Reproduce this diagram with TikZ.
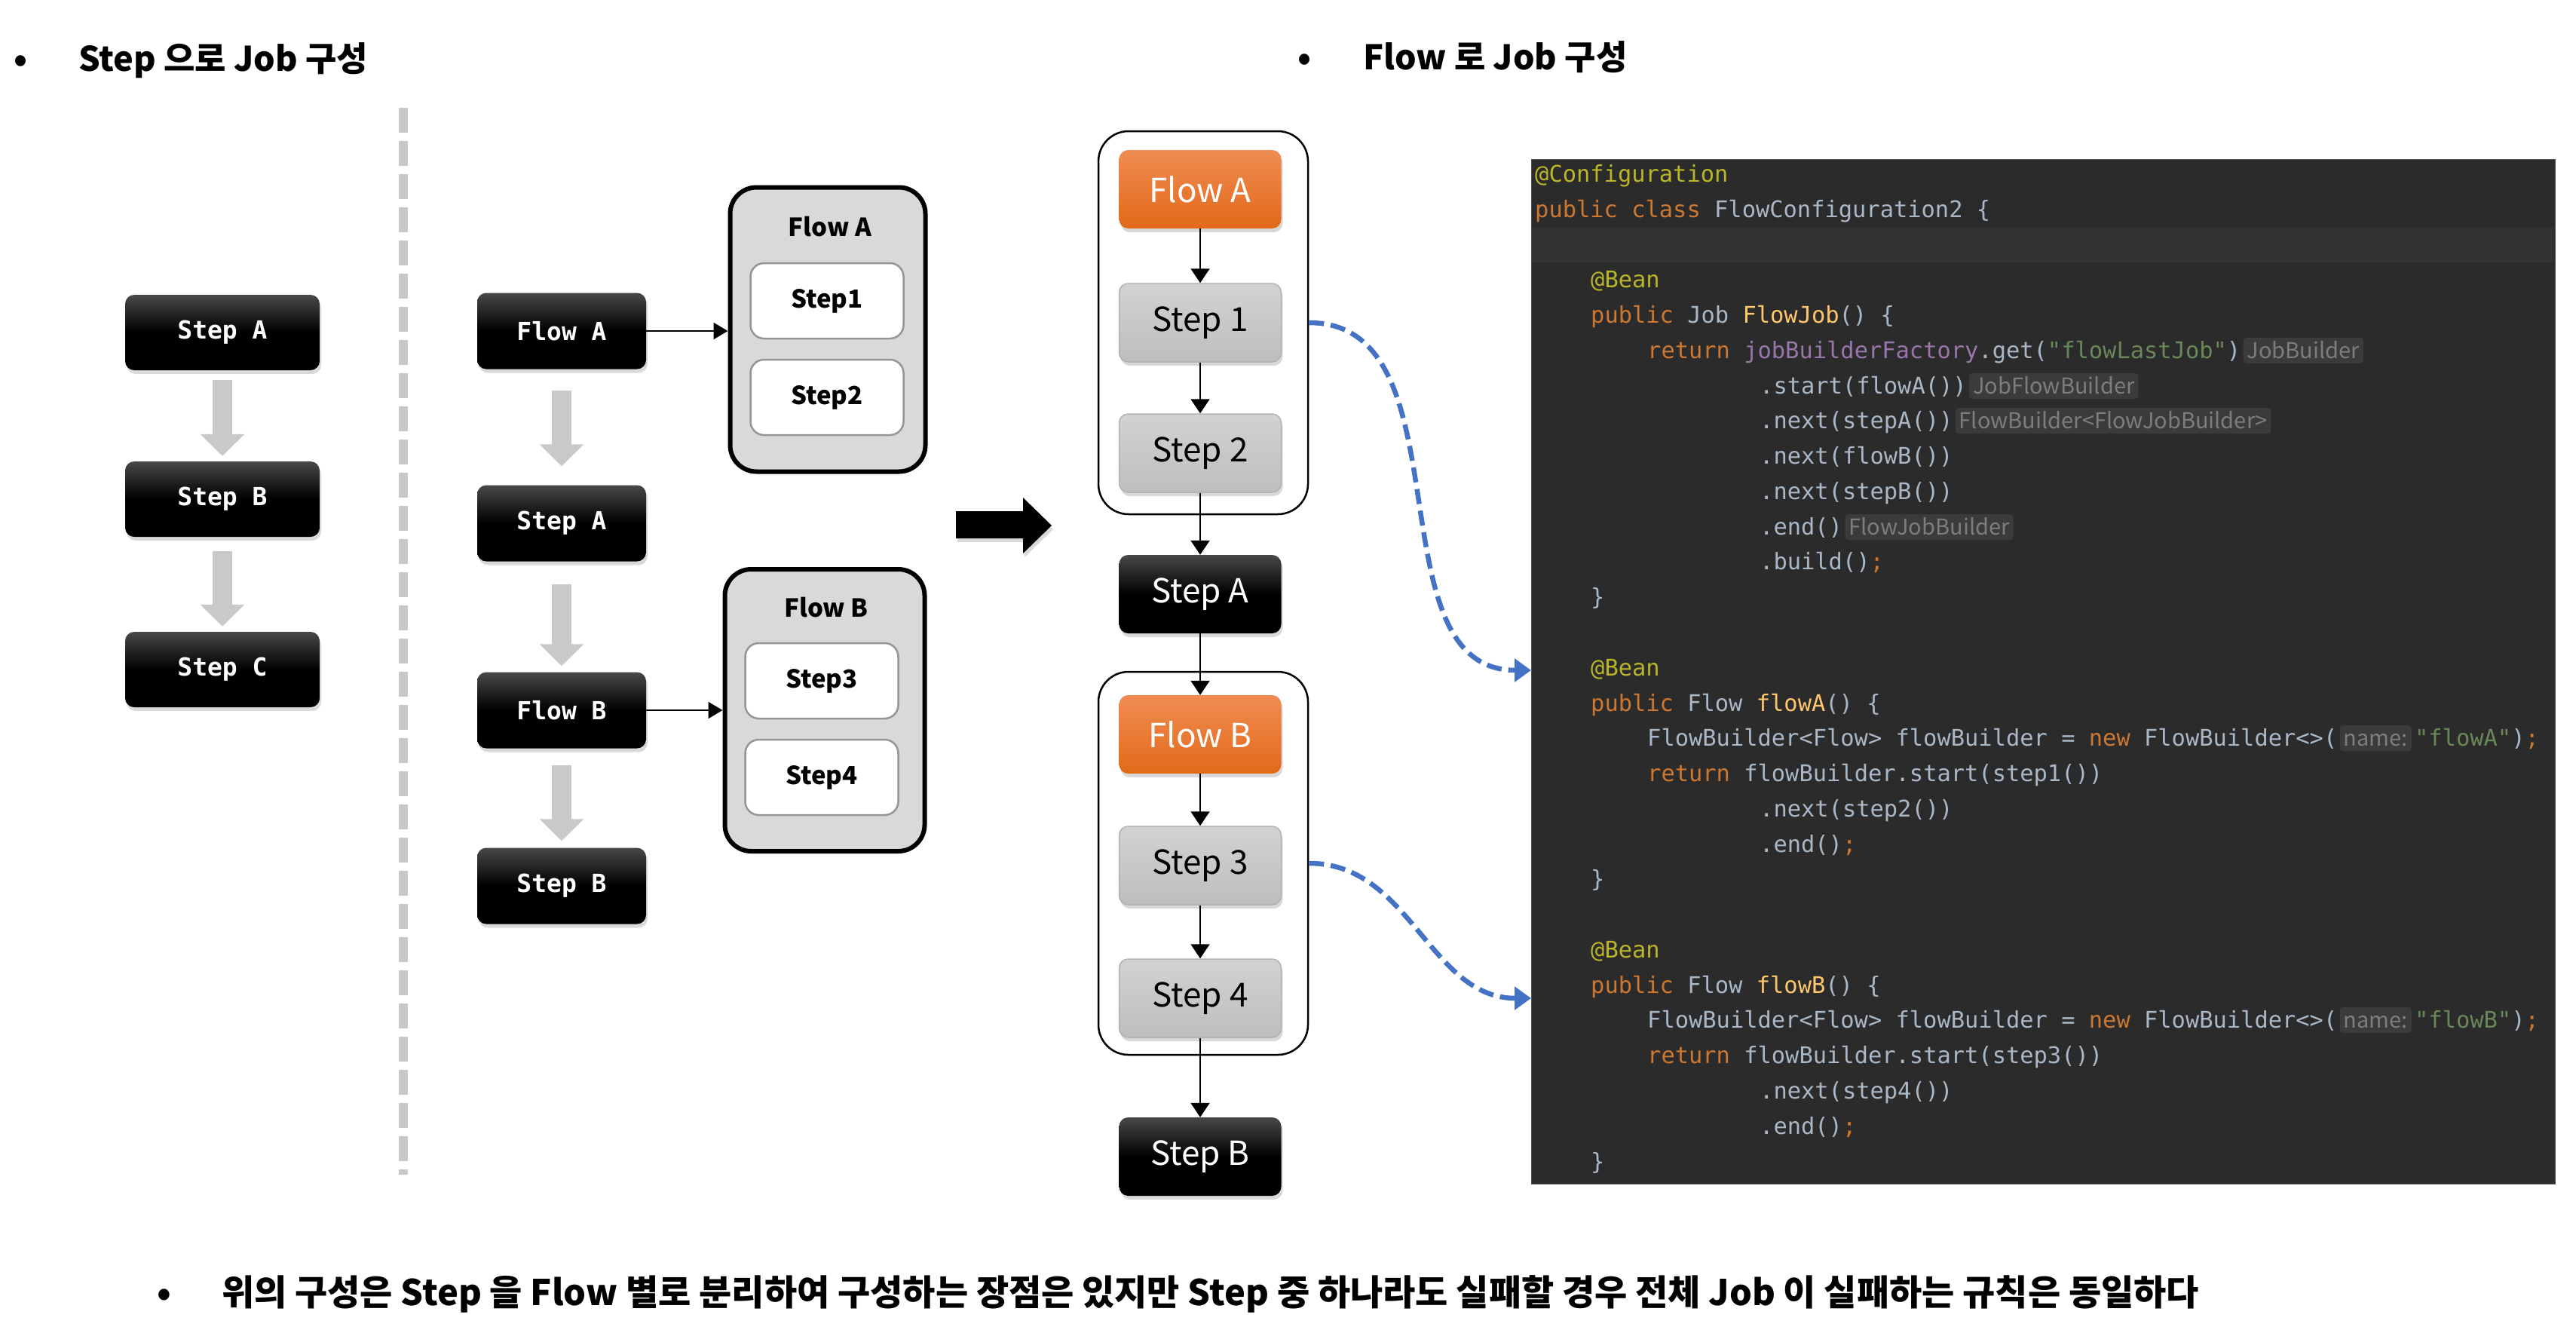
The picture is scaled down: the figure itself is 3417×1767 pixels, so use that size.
\documentclass[tikz,border=0pt]{standalone}
\usepackage{fontspec}
\usepackage{xcolor}
\usetikzlibrary{arrows.meta,shadows}

\newfontfamily\kofont{Noto Sans CJK KR}
\newfontfamily\codefont{DejaVu Sans Mono}

\definecolor{sepGray}{RGB}{200,200,200}
\definecolor{arrowGray}{RGB}{201,201,201}
\definecolor{boxTop}{RGB}{72,72,72}
\definecolor{groupGray}{RGB}{217,217,217}
\definecolor{stepEdge}{RGB}{150,150,150}
\definecolor{orangeTop}{RGB}{240,140,82}
\definecolor{orangeBot}{RGB}{226,105,25}
\definecolor{greyTop}{RGB}{210,210,210}
\definecolor{greyBot}{RGB}{190,190,190}
\definecolor{greyEdge}{RGB}{178,178,178}
\definecolor{linkBlue}{RGB}{68,114,196}
\definecolor{codeBg}{RGB}{43,43,43}
\definecolor{codeBand}{RGB}{50,50,50}
\definecolor{codeText}{RGB}{169,183,198}
\definecolor{kwOrange}{RGB}{204,120,50}
\definecolor{annYellow}{RGB}{187,181,41}
\definecolor{fnGold}{RGB}{255,198,109}
\definecolor{fldPurple}{RGB}{152,118,170}
\definecolor{strGreen}{RGB}{106,135,89}
\definecolor{hintBg}{RGB}{59,59,59}
\definecolor{hintText}{RGB}{125,125,125}

%code colouring
\newcommand{\cKw}[1]{\textcolor{kwOrange}{#1}}
\newcommand{\cAnn}[1]{\textcolor{annYellow}{#1}}
\newcommand{\cFn}[1]{\textcolor{fnGold}{#1}}
\newcommand{\cFld}[1]{\textcolor{fldPurple}{#1}}
\newcommand{\cStr}[1]{\textcolor{strGreen}{#1}}

\tikzset{
  titletext/.style={font=\kofont\bfseries\fontsize{45}{52}\selectfont, inner sep=0pt, anchor=base west},
  sepline/.style={draw=sepGray, line width=12pt, dash pattern=on 33pt off 11pt},
  boxshadow/.style={drop shadow={shadow xshift=2pt, shadow yshift=-5pt, opacity=0.3}},
  darkbox/.style={rounded corners=12pt, inner sep=0pt, top color=boxTop, bottom color=black, middle color=black, text=white, boxshadow},
  lbox/.style={darkbox, minimum width=258pt, minimum height=100pt, font=\codefont\bfseries\fontsize{33}{40}\selectfont},
  grayarrow/.style={draw=arrowGray, line width=26pt, -{Triangle[length=29pt,width=57pt]}},
  thinarrow/.style={draw=black, line width=2pt, -{Triangle[length=19pt,width=22pt]}},
  mgroup/.style={draw=black, line width=6pt, fill=groupGray, rounded corners=35pt, inner sep=0pt, minimum width=259pt, minimum height=377pt},
  mlabel/.style={inner sep=0pt, font=\kofont\bfseries\fontsize{33}{40}\selectfont},
  mstep/.style={fill=white, draw=stepEdge, line width=2.5pt, rounded corners=18pt, inner sep=0pt, minimum width=203pt, minimum height=100pt, font=\kofont\bfseries\fontsize{33}{40}\selectfont},
  rgroup/.style={draw=black, line width=2.5pt, fill=white, rounded corners=40pt, inner sep=0pt, minimum width=278pt, minimum height=508pt},
  rbox/.style={rounded corners=12pt, inner sep=0pt, minimum width=215pt, minimum height=104pt, font=\kofont\fontsize{44}{50}\selectfont, boxshadow},
  rflow/.style={rbox, top color=orangeTop, bottom color=orangeBot, text=white},
  rstep/.style={rbox, top color=greyTop, bottom color=greyBot, draw=greyEdge, line width=1.5pt, text=black},
  rjob/.style={rbox, top color=boxTop, bottom color=black, middle color=black, text=white},
  flowarrow/.style={draw=black, line width=2pt, -{Triangle[length=19pt,width=25pt]}},
  linkarrow/.style={draw=linkBlue, line width=6.5pt, dash pattern=on 20pt off 9pt, -{Triangle[length=22pt,width=30pt]}},
  codepanel/.style={fill=codeBg, draw={rgb,255:red,85;green,85;blue,85}, line width=1pt, inner sep=0pt, minimum width=1358pt, minimum height=1359pt},
  codeline/.style={font=\codefont\fontsize{30.4}{36}\selectfont, text=codeText, inner sep=0pt, anchor=base west},
  hint/.style={font=\kofont\fontsize{29}{34}\selectfont, text=hintText, fill=hintBg, rounded corners=4pt, inner xsep=5pt, inner ysep=3pt, text height=24pt, text depth=4pt, anchor=base west, xshift=3pt},
  bodytext/.style={font=\kofont\bfseries\fontsize{47}{54}\selectfont, inner sep=0pt, anchor=base west}
}

\begin{document}
\begin{tikzpicture}[x=1pt,y=1pt,yscale=-1,xscale=1]
\useasboundingbox (0,0) rectangle (3417,1767);

%Titles
\node [titletext] (bulletL) at (18,94) {•};
\node [titletext] (titleL) at (104,94) {Step 으로 Job 구성};
\node [titletext] (bulletR) at (1721,92) {•};
\node [titletext] (titleR) at (1808,92) {Flow 로 Job 구성};

%Dashed separator
\draw [sepline] (535,143) -- (535,1558);

%Left column: steps only
\node [lbox] (lStepA) at (295,441) {Step A};
\node [lbox] (lStepB) at (295,662) {Step B};
\node [lbox] (lStepC) at (295,888) {Step C};
\draw [grayarrow, shorten <=13pt, shorten >=7pt] (lStepA) -- (lStepB);
\draw [grayarrow, shorten <=19pt, shorten >=7pt] (lStepB) -- (lStepC);

%Middle column: flows and steps
\node [lbox, minimum width=224pt, minimum height=101pt] (mFlowA) at (745,439) {Flow A};
\node [lbox, minimum width=224pt, minimum height=101pt] (mStepA) at (745,694) {Step A};
\node [lbox, minimum width=224pt, minimum height=101pt] (mFlowB) at (745,942) {Flow B};
\node [lbox, minimum width=224pt, minimum height=101pt] (mStepB) at (745,1175) {Step B};
\draw [grayarrow, shorten <=28pt, shorten >=25pt] (mFlowA) -- (mStepA);
\draw [grayarrow, shorten <=30pt, shorten >=8pt] (mStepA) -- (mFlowB);
\draw [grayarrow, shorten <=22pt, shorten >=9pt] (mFlowB) -- (mStepB);

%Flow A group
\node [mgroup] (mGroupA) at (1098,437) {};
\node [mlabel] (mLabelA) at (1101,301) {Flow A};
\node [mstep] (mStep1) at (1097,399) {Step1};
\node [mstep] (mStep2) at (1097,527) {Step2};
%Flow B group
\node [mgroup, minimum width=265pt, minimum height=374pt] (mGroupB) at (1094,942) {};
\node [mlabel] (mLabelB) at (1096,806) {Flow B};
\node [mstep] (mStep3) at (1090,903) {Step3};
\node [mstep] (mStep4) at (1090,1031) {Step4};
\draw [thinarrow] (mFlowA.east) -- (mFlowA.east -| mGroupA.west);
\draw [thinarrow] (mFlowB.east) -- (mFlowB.east -| mGroupB.west);

%Big arrow
\fill [black, boxshadow] (1268,678) -- (1357,678) -- (1357,660) -- (1395,697) -- (1357,734) -- (1357,714) -- (1268,714) -- cycle;

%Right column: job built from flows
\node [rgroup] (rGroupA) at (1596,428) {};
\node [rgroup] (rGroupB) at (1596,1145) {};
\node [rflow] (rFlowA) at (1592,251) {Flow A};
\node [rstep] (rStep1) at (1592,428) {Step 1};
\node [rstep] (rStep2) at (1592,601) {Step 2};
\node [rjob] (rStepA) at (1592,788) {Step A};
\node [rflow] (rFlowB) at (1592,974) {Flow B};
\node [rstep] (rStep3) at (1592,1148) {Step 3};
\node [rstep] (rStep4) at (1592,1324) {Step 4};
\node [rjob] (rStepB) at (1592,1534) {Step B};
\draw [flowarrow] (rFlowA) -- (rStep1);
\draw [flowarrow] (rStep1) -- (rStep2);
\draw [flowarrow] (rStep2) -- (rStepA);
\draw [flowarrow] (rStepA) -- (rFlowB);
\draw [flowarrow] (rFlowB) -- (rStep3);
\draw [flowarrow] (rStep3) -- (rStep4);
\draw [flowarrow] (rStep4) -- (rStepB);

%Code panel
\node [codepanel] (codePanel) at (2710,890.5) {};
\fill [codeBand] (2032,302) rectangle (3388,348);
\node [codeline] (c0) at (2036,241) {\cAnn{@Configuration}};
\node [codeline] (c1) at (2036,288) {\cKw{public class} FlowConfiguration2 \{};
\node [codeline] (c3) at (2110,381) {\cAnn{@Bean}};
\node [codeline] (c4) at (2110,428) {\cKw{public} Job \cFn{FlowJob}() \{};
\node [codeline] (c5) at (2185,475) {\cKw{return} \cFld{jobBuilderFactory}.get(\cStr{"flowLastJob"})};
\node [hint] (h5) at (c5.base east) {JobBuilder};
\node [codeline] (c6) at (2334,522) {.start(flowA())};
\node [hint] (h6) at (c6.base east) {JobFlowBuilder};
\node [codeline] (c7) at (2334,568) {.next(stepA())};
\node [hint] (h7) at (c7.base east) {FlowBuilder<FlowJobBuilder>};
\node [codeline] (c8) at (2334,615) {.next(flowB())};
\node [codeline] (c9) at (2334,662) {.next(stepB())};
\node [codeline] (c10) at (2334,709) {.end()};
\node [hint] (h10) at (c10.base east) {FlowJobBuilder};
\node [codeline] (c11) at (2334,755) {.build()\cKw{;}};
\node [codeline] (c12) at (2110,802) {\}};
\node [codeline] (c14) at (2110,896) {\cAnn{@Bean}};
\node [codeline] (c15) at (2110,943) {\cKw{public} Flow \cFn{flowA}() \{};
\node [codeline] (c16) at (2185,989) {FlowBuilder<Flow> flowBuilder = \cKw{new} FlowBuilder<>(};
\node [hint] (h16) at (c16.base east) {name:};
\node [codeline, xshift=4pt] (c16b) at (h16.base east) {\cStr{"flowA"})\cKw{;}};
\node [codeline] (c17) at (2185,1036) {\cKw{return} flowBuilder.start(step1())};
\node [codeline] (c18) at (2334,1083) {.next(step2())};
\node [codeline] (c19) at (2334,1130) {.end()\cKw{;}};
\node [codeline] (c20) at (2110,1176) {\}};
\node [codeline] (c22) at (2110,1270) {\cAnn{@Bean}};
\node [codeline] (c23) at (2110,1317) {\cKw{public} Flow \cFn{flowB}() \{};
\node [codeline] (c24) at (2185,1363) {FlowBuilder<Flow> flowBuilder = \cKw{new} FlowBuilder<>(};
\node [hint] (h24) at (c24.base east) {name:};
\node [codeline, xshift=4pt] (c24b) at (h24.base east) {\cStr{"flowB"})\cKw{;}};
\node [codeline] (c25) at (2185,1410) {\cKw{return} flowBuilder.start(step3())};
\node [codeline] (c26) at (2334,1457) {.next(step4())};
\node [codeline] (c27) at (2334,1504) {.end()\cKw{;}};
\node [codeline] (c28) at (2110,1551) {\}};

%Links from flows to their code
\coordinate (tgtA) at (2031,889);
\coordinate (tgtB) at (2031,1324);
\draw [linkarrow] (rGroupA.east) to[out=0,in=180] (tgtA);
\draw [linkarrow] (rGroupB.east) to[out=0,in=180] (tgtB);

%Note
\node [bodytext] (bulletN) at (208,1731) {•};
\node [bodytext] (noteN) at (294,1731) {위의 구성은 Step 을 Flow 별로 분리하여 구성하는 장점은 있지만 Step 중 하나라도 실패할 경우 전체 Job 이 실패하는 규칙은 동일하다};
\end{tikzpicture}
\end{document}
